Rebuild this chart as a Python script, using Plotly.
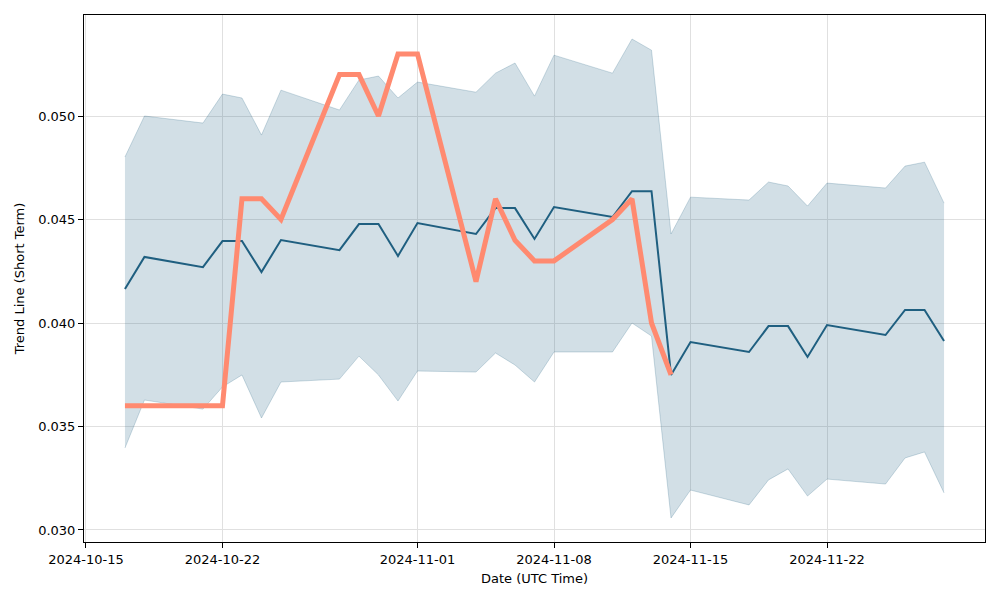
import plotly.graph_objects as go

dates = ["2024-10-17", "2024-10-18", "2024-10-21", "2024-10-22", "2024-10-23", "2024-10-24",
         "2024-10-25", "2024-10-28", "2024-10-29", "2024-10-30", "2024-10-31", "2024-11-01",
         "2024-11-04", "2024-11-05", "2024-11-06", "2024-11-07", "2024-11-08", "2024-11-11",
         "2024-11-12", "2024-11-13", "2024-11-14", "2024-11-15", "2024-11-18", "2024-11-19",
         "2024-11-20", "2024-11-21", "2024-11-22", "2024-11-25", "2024-11-26", "2024-11-27",
         "2024-11-28"]

trend = [0.04164, 0.04319, 0.0427, 0.04396, 0.04396, 0.04246, 0.04401, 0.04352, 0.04478, 0.04478,
         0.04324, 0.04483, 0.0443, 0.04555, 0.04555, 0.04406, 0.0456, 0.04512, 0.04637, 0.04637,
         0.03749, 0.03908, 0.0386, 0.03985, 0.03985, 0.03836, 0.0399, 0.03942, 0.04063, 0.04063,
         0.03913]

upper = [0.04802, 0.0500, 0.04966, 0.05106, 0.05087, 0.04908, 0.05125, 0.05029, 0.05174, 0.05193,
         0.05087, 0.05164, 0.05115, 0.05207, 0.05256, 0.05096, 0.05294, 0.05207, 0.05372, 0.05318,
         0.0443, 0.04608, 0.04594, 0.04681, 0.04662, 0.04565, 0.04676, 0.04652, 0.04758, 0.04777,
         0.04579]

lower = [0.03396, 0.03628, 0.03584, 0.03691, 0.03749, 0.03541, 0.03715, 0.03729, 0.0384, 0.03749,
         0.03623, 0.03768, 0.03763, 0.03855, 0.03797, 0.03715, 0.0386, 0.0386, 0.0400, 0.03937,
         0.03058, 0.03193, 0.03121, 0.03242, 0.03295, 0.03164, 0.03246, 0.03222, 0.03348, 0.03377,
         0.03179]

actual_dates = dates[:21]
actual = [0.036, 0.036, 0.036, 0.036, 0.046, 0.046, 0.045, 0.052, 0.052, 0.050, 0.053, 0.053,
          0.042, 0.046, 0.044, 0.043, 0.043, 0.045, 0.046, 0.040, 0.0375]

xtick_vals = ["2024-10-15", "2024-10-22", "2024-11-01", "2024-11-08", "2024-11-15", "2024-11-22"]
xtick_text = ["2024-10-15", "2024-10-22", "2024-11-01", "2024-11-08", "2024-11-15", "2024-11-22"]
ytick_vals = [0.030, 0.035, 0.040, 0.045, 0.050]

BLUE = "#1f5f80"
BAND = "rgba(31,95,128,0.2)"
EDGE = "rgba(31,95,128,0.22)"
ORANGE = "#ff8a70"

fig = go.Figure()
fig.add_trace(go.Scatter(x=dates, y=lower, mode="lines", line=dict(color=EDGE, width=1),
                         showlegend=False, hoverinfo="skip"))
fig.add_trace(go.Scatter(x=dates, y=upper, mode="lines", line=dict(color=EDGE, width=1),
                         fill="tonexty", fillcolor=BAND, showlegend=False, hoverinfo="skip"))
fig.add_trace(go.Scatter(x=dates, y=trend, mode="lines", line=dict(color=BLUE, width=2),
                         showlegend=False))
fig.add_trace(go.Scatter(x=actual_dates, y=actual, mode="lines", line=dict(color=ORANGE, width=5),
                         showlegend=False))

font = dict(family="DejaVu Sans", size=13, color="black")
fig.update_layout(
    width=1000, height=600,
    margin=dict(l=84, r=15, t=15, b=58),
    plot_bgcolor="white", paper_bgcolor="white",
    font=font,
)
fig.update_xaxes(
    range=["2024-10-14 21:36", "2024-11-30 02:24"],
    tickvals=xtick_vals, ticktext=xtick_text,
    showline=True, linecolor="black", linewidth=1, mirror=True,
    ticks="outside", ticklen=5, tickcolor="black",
    showgrid=True, gridcolor="#e0e0e0", gridwidth=1, zeroline=False,
    title=dict(text="Date (UTC Time)", font=font, standoff=8),
)
fig.update_yaxes(
    range=[0.02942, 0.05488],
    tickvals=ytick_vals, tickformat=".3f",
    showline=True, linecolor="black", linewidth=1, mirror=True,
    ticks="outside", ticklen=5, tickcolor="black",
    showgrid=True, gridcolor="#e0e0e0", gridwidth=1, zeroline=False,
    title=dict(text="Trend Line (Short Term)", font=font, standoff=10),
)

fig.write_html("out.html")
